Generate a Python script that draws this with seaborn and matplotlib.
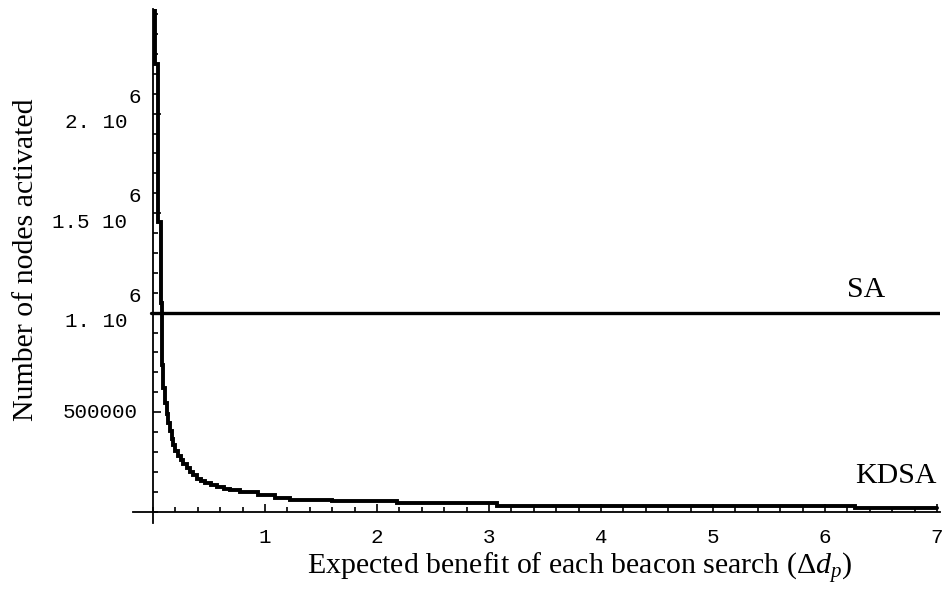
import matplotlib
matplotlib.use("Agg")
import matplotlib.pyplot as plt
import numpy as np
import pandas as pd
import seaborn as sns
from matplotlib.ticker import MultipleLocator, FixedLocator

# KDSA: number of nodes activated vs. expected benefit (step levels, right edge of each level)
kdsa_benefit = [0.013, 0.04, 0.067, 0.08, 0.092, 0.107, 0.122, 0.137, 0.152, 0.167,
                0.181, 0.20, 0.226, 0.25, 0.27, 0.30, 0.33, 0.36, 0.39, 0.43,
                0.464, 0.52, 0.569, 0.63, 0.69, 0.78, 0.94, 1.09, 1.22, 1.6,
                2.18, 3.07, 6.27, 7.0]
kdsa_nodes = [2.6e6, 2.25e6, 1.455e6, 1.05e6, 737e3, 622e3, 546e3, 490e3, 445e3, 405e3,
              365e3, 335e3, 305e3, 280e3, 258e3, 238e3, 218e3, 200e3, 185e3, 165e3,
              153e3, 143e3, 134e3, 125e3, 116e3, 110e3, 97e3, 82e3, 69e3, 60e3,
              52e3, 44e3, 30e3, 17e3]

# SA: constant number of nodes activated
sa_benefit = [-0.02, 7.03]
sa_nodes = 1.0e6

x_tick_values = [1, 2, 3, 4, 5, 6, 7]
y_tick_values = [500000, 1.0e6, 1.5e6, 2.0e6]
y_tick_mantissa = ["500000", "1. 10", "1.5 10", "2. 10"]
y_tick_exponent = ["", "6", "6", "6"]

sns.set_theme(style="white", rc={
    "axes.edgecolor": "black",
    "text.color": "black",
    "xtick.color": "black",
    "ytick.color": "black",
    "axes.labelcolor": "black",
    "xtick.bottom": True,
    "ytick.left": True,
})
plt.rcParams["font.family"] = ["Liberation Serif", "DejaVu Serif"]
plt.rcParams["mathtext.fontset"] = "custom"
plt.rcParams["mathtext.rm"] = "Liberation Serif"
plt.rcParams["mathtext.it"] = "Liberation Serif:italic"

fig = plt.figure(figsize=(9.49, 5.89), dpi=100)
ax = fig.add_axes([133 / 949, 66 / 589, 807 / 949, 514 / 589])

kdsa = pd.DataFrame({"benefit": kdsa_benefit, "nodes": kdsa_nodes})
sa = pd.DataFrame({"benefit": sa_benefit, "nodes": [sa_nodes] * len(sa_benefit)})

sns.lineplot(data=kdsa, x="benefit", y="nodes", ax=ax, color="black",
             linewidth=2.8, drawstyle="steps-pre", errorbar=None, sort=False,
             solid_joinstyle="miter")
sns.lineplot(data=sa, x="benefit", y="nodes", ax=ax, color="black",
             linewidth=2.4, errorbar=None)

ax.set_xlim(-0.179, 7.027)
ax.set_ylim(-0.0568e6, 2.526e6)

# Axes crossing at the origin
for side in ("top", "right"):
    ax.spines[side].set_visible(False)
ax.spines["left"].set_position(("data", 0))
ax.spines["bottom"].set_position(("data", 0))
for side in ("left", "bottom"):
    ax.spines[side].set_linewidth(1.3)
    ax.spines[side].set_color("black")

ax.xaxis.set_major_locator(FixedLocator(x_tick_values))
ax.xaxis.set_minor_locator(MultipleLocator(0.2))
ax.yaxis.set_major_locator(FixedLocator(y_tick_values))
ax.yaxis.set_minor_locator(MultipleLocator(1e5))
ax.set_xticklabels([str(v) for v in x_tick_values])
ax.set_yticklabels([])
ax.tick_params(which="both", direction="in", color="black", width=1.2,
               bottom=True, left=True, top=False, right=False)
ax.tick_params(which="major", length=6)
ax.tick_params(which="minor", length=3.5)
ax.tick_params(axis="x", which="major", pad=12, labelsize=15)
for lbl in ax.get_xticklabels():
    lbl.set_family(["Liberation Mono", "DejaVu Sans Mono"])

mono = ["Liberation Mono", "DejaVu Sans Mono"]
for val, man, exp in zip(y_tick_values, y_tick_mantissa, y_tick_exponent):
    if exp:
        ax.annotate(man, xy=(0, val), xycoords="data", xytext=(-18.7, -6.5),
                    textcoords="offset points", ha="right", va="center",
                    fontsize=15, family=mono)
        ax.annotate(exp, xy=(0, val), xycoords="data", xytext=(-18.0, 12.0),
                    textcoords="offset points", ha="left", va="center",
                    fontsize=15, family=mono)
    else:
        ax.annotate(man, xy=(0, val), xycoords="data", xytext=(-10.8, 0),
                    textcoords="offset points", ha="right", va="center",
                    fontsize=15, family=mono)

ax.text(6.37, 1.114e6, "SA", fontsize=21.5, ha="center", va="center")
ax.text(6.63, 0.179e6, "KDSA", fontsize=21.5, ha="center", va="center")

ax.set_xlabel(r"Expected benefit of each beacon search ($\Delta d_p$)", fontsize=21.5)
ax.set_ylabel("Number of nodes activated", fontsize=21.5)
ax.xaxis.set_label_coords(0.553, -0.088)
ax.xaxis.label.set_verticalalignment("center")
ax.yaxis.set_label_coords(-0.133, 0.512)
ax.yaxis.label.set_verticalalignment("center")

fig.savefig("out.png", dpi=100, facecolor="white")
